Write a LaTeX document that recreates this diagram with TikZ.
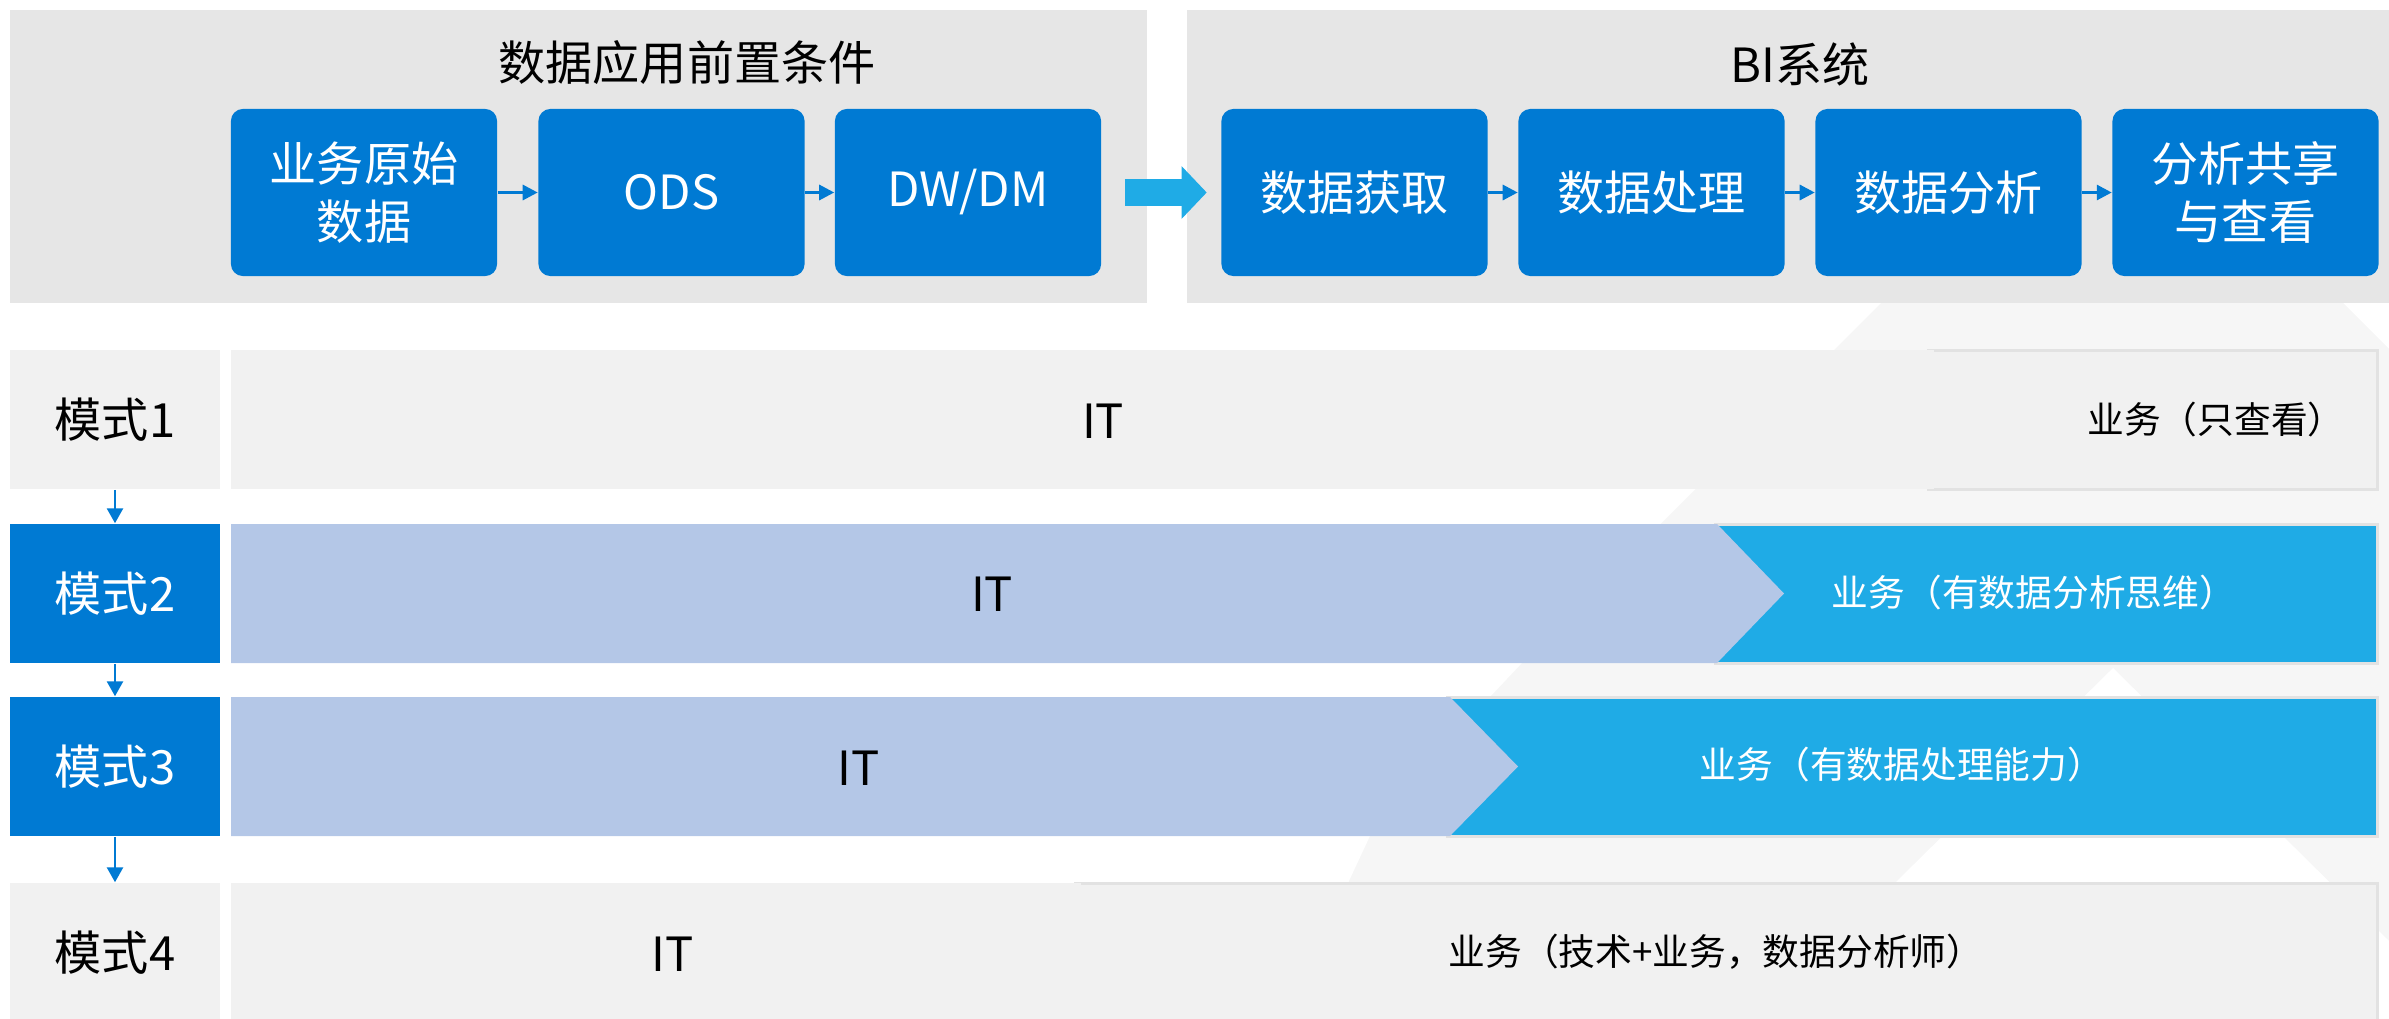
\documentclass[tikz,border=0pt]{standalone}
\usepackage{fontspec}
\setmainfont{Noto Sans CJK SC}
\usepackage{tikz}
\usetikzlibrary{arrows.meta}
\definecolor{panelgray}{HTML}{E6E6E6}
\definecolor{rowgray}{HTML}{F1F1F1}
\definecolor{edgegray}{HTML}{E2E2E2}
\definecolor{markgray}{HTML}{F6F6F6}
\definecolor{boxblue}{HTML}{007AD3}
\definecolor{bizblue}{HTML}{1FABE6}
\definecolor{itblue}{HTML}{B4C7E7}
\newcommand{\figbig}{\fontsize{13.4pt}{16.6pt}\selectfont}
\newcommand{\figsmall}{\fontsize{10.45pt}{12.5pt}\selectfont}
\tikzset{
  procbox/.style={fill=boxblue,text=white,rounded corners=0.12cm,minimum width=2.66cm,
    minimum height=1.67cm,align=center,inner sep=0pt,font=\figbig},
  modebox/.style={minimum width=2.1cm,minimum height=1.39cm,inner sep=0pt,font=\figbig},
  flowarrow/.style={draw=boxblue,line width=0.03cm,-{Triangle[length=0.15cm,width=0.15cm]}},
  modearrow/.style={draw=boxblue,line width=0.027cm,-{Triangle[length=0.15cm,width=0.16cm]}},
  bigarrow/.style={draw=bizblue,line width=0.27cm,-{Triangle[length=0.25cm,width=0.51cm]}},
  bizpart/.style={draw=edgegray,line width=0.03cm}
}

\begin{document}
\begin{tikzpicture}[x=0.01cm,y=-0.01cm]
  \useasboundingbox (0,0) rectangle (2389,1018);
  \begin{scope}
    \clip (0,0) rectangle (2389,1018);
    \fill[markgray] (2112,72) -- (1879,305) -- (1523,662) -- (1490,697) -- (1370,836)
      -- (1349,881) -- (1330,1018) -- (2389,1018) -- (2389,349) -- cycle;
    \fill[white] (2113,668) -- (1758,1018) -- (2389,1018) -- (2389,941) -- cycle;
  \end{scope}

  \fill[panelgray] (10,10) rectangle (1147,303);
  \fill[panelgray] (1187,10) rectangle (2389,303);
  \node[font=\figbig] (pretitle) at (687,63) {数据应用前置条件};
  \node[font=\figbig] (bititle) at (1800,64) {BI系统};

  \node[procbox] (raw) at (364,192.5) {业务原始\\数据};
  \node[procbox] (ods) at (671.5,192.5) {ODS};
  \node[procbox] (dw) at (968,192.5) {DW/DM};
  \node[procbox] (get) at (1354.5,192.5) {数据获取};
  \node[procbox] (proc) at (1651.5,192.5) {数据处理};
  \node[procbox] (ana) at (1948.5,192.5) {数据分析};
  \node[procbox] (share) at (2245.5,192.5) {分析共享\\与查看};
  \foreach \a/\b in {raw/ods,ods/dw,get/proc,proc/ana,ana/share} {
    \draw[flowarrow] (\a) -- (\b);
  }
  \draw[bigarrow] ([xshift=0.23cm]dw.east) -- ([xshift=-0.14cm]get.west);

  \filldraw[bizpart,fill=rowgray] (1928,350) rectangle (2377,489);
  \fill[rowgray] (231,350) rectangle (1934,489);
  \node[font=\figbig] (it1) at (1103,421) {IT};
  \node[font=\figsmall] (biz1) at (2216,420) {业务（只查看）};

  \filldraw[bizpart,fill=bizblue] (1715,524) rectangle (2377,663);
  \fill[itblue] (231,524) -- (1717,524) -- (1784,593.5) -- (1717,663) -- (231,663) -- cycle;
  \node[font=\figbig] (it2) at (992,594) {IT};
  \node[font=\figsmall,text=white] (biz2) at (2034,593) {业务（有数据分析思维）};

  \filldraw[bizpart,fill=bizblue] (1447,697) rectangle (2377,836);
  \fill[itblue] (231,697) -- (1450,697) -- (1518,766.5) -- (1450,836) -- (231,836) -- cycle;
  \node[font=\figbig] (it3) at (859,768) {IT};
  \node[font=\figsmall,text=white] (biz3) at (1902,765) {业务（有数据处理能力）};

  \filldraw[bizpart,fill=rowgray] (1075,883) rectangle (2377,1030);
  \fill[rowgray] (231,883) rectangle (1081,1030);
  \node[font=\figbig] (it4) at (673,954) {IT};
  \node[font=\figsmall] (biz4) at (1716,952) {业务（技术+业务，数据分析师）};

  \node[modebox,fill=rowgray] (m1) at (115,419.5) {模式1};
  \node[modebox,fill=boxblue,text=white] (m2) at (115,593.5) {模式2};
  \node[modebox,fill=boxblue,text=white] (m3) at (115,766.5) {模式3};
  \node[modebox,fill=rowgray] (m4) at (115,952.5) {模式4};
  \foreach \a/\b in {m1/m2,m2/m3,m3/m4} {
    \draw[modearrow] (\a) -- (\b);
  }
\end{tikzpicture}
\end{document}
